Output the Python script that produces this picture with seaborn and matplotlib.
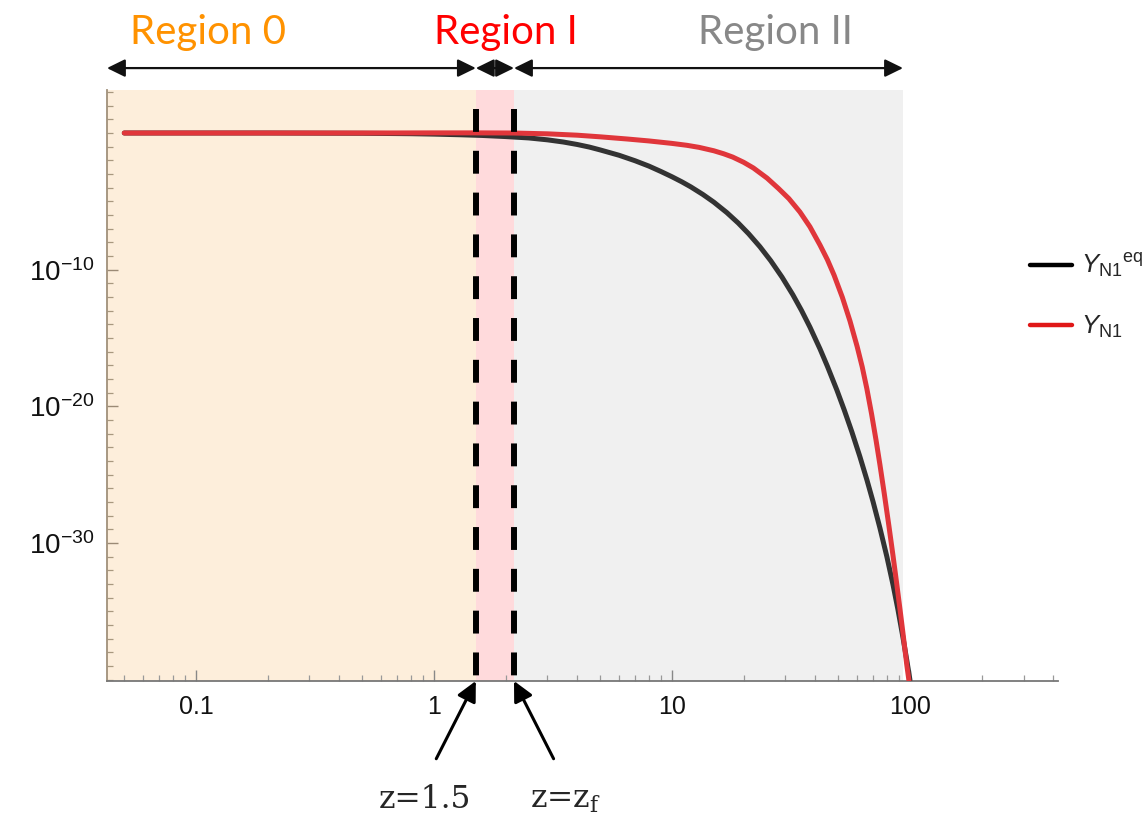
import numpy as np
import pandas as pd
import matplotlib
matplotlib.use("Agg")
import matplotlib.pyplot as plt
import matplotlib.ticker as mticker
from matplotlib.lines import Line2D
import seaborn as sns

# N1 yields versus z = M1/T, stored as log10 of the yield
z_eq = [0.05, 0.2, 0.5, 0.8, 1.0, 1.3, 1.6, 2.0, 2.5, 3.0, 3.5, 4.0, 4.5, 5.0,
        6.0, 7.0, 8.0, 9.0, 10.0, 11.0, 12.0, 13.5, 15.0, 17.0, 19.0, 21.0,
        23.4, 26.0, 29.0, 32.2, 35.0, 38.0, 41.9, 45.0, 49.3, 53.0, 57.0, 61.6,
        66.0, 70.0, 74.8, 80.0, 84.9, 89.0, 93.5, 97.0, 100.0]
log_y_eq = [0.0, 0.0, -0.02, -0.05, -0.08, -0.13, -0.18, -0.26, -0.36, -0.5,
            -0.66, -0.84, -1.03, -1.24, -1.63, -2.03, -2.42, -2.82, -3.2, -3.57,
            -3.94, -4.5, -5.06, -5.82, -6.59, -7.37, -8.31, -9.34, -10.54,
            -11.83, -12.97, -14.2, -15.8, -17.07, -18.8, -20.28, -21.86, -23.67,
            -25.4, -26.98, -28.9, -31.0, -33.05, -34.85, -36.92, -38.57, -40.01]

z_n1 = [0.05, 0.5, 1.0, 1.5, 2.15, 3.0, 4.0, 5.0, 6.5, 8.0, 10.0, 11.56, 13.0,
        15.0, 16.5, 18.0, 20.0, 22.0, 25.1, 28.0, 31.0, 34.5, 38.0, 41.9, 45.0,
        48.0, 52.0, 56.0, 60.0, 63.0, 65.9, 69.0, 72.0, 74.8, 78.0, 81.5, 84.9,
        88.0, 91.0, 93.5, 97.0, 100.0]
log_y_n1 = [0.0, 0.0, 0.01, 0.01, 0.0, -0.06, -0.16, -0.28, -0.44, -0.58,
            -0.76, -0.9, -1.05, -1.3, -1.52, -1.76, -2.14, -2.56, -3.3, -4.05,
            -4.8, -5.78, -6.86, -8.2, -9.27, -10.4, -12.02, -13.76, -15.62,
            -17.1, -18.7, -20.56, -22.45, -24.27, -26.38, -28.69, -30.93,
            -32.98, -34.96, -36.61, -38.92, -40.6]

series_labels = [r"${Y_{\mathrm{N1}}}^{\mathrm{eq}}$", r"$Y_{\mathrm{N1}}$"]
series_colors = ["#333333", "#e0363b"]

# region boundaries in z
z_min, z_max = 0.0423, 418.7
z_start, z_f, z_end = 1.5, 2.17, 93.5
region_names = ["Region 0", "Region I", "Region II"]
region_text_colors = ["#ff9200", "#ff0000", "#888888"]
region_fills = ["#fdeedb", "#ffdadc", "#f0f0f0"]

x_major = [0.1, 1, 10, 100]
x_major_labels = ["0.1", "1", "10", "100"]
y_major_exp = [-10, -20, -30]
y_lim_exp = (-40.09, 3.15)

sns.set_theme(style="white")
plt.rcParams["font.family"] = ["Liberation Sans", "DejaVu Sans"]
plt.rcParams["mathtext.fontset"] = "custom"
plt.rcParams["mathtext.rm"] = "Liberation Sans"
plt.rcParams["mathtext.it"] = "Liberation Sans:italic"
plt.rcParams["mathtext.bf"] = "Liberation Sans:bold"

df = pd.concat([
    pd.DataFrame({"z": z_eq, "Y": 10.0 ** np.array(log_y_eq), "series": series_labels[0]}),
    pd.DataFrame({"z": z_n1, "Y": 10.0 ** np.array(log_y_n1), "series": series_labels[1]}),
], ignore_index=True)

fig = plt.figure(figsize=(11.43, 8.17), dpi=100)
ax = fig.add_axes([0.0936, 0.1665, 0.8320, 0.7234])

# shaded regions
edges = [z_min, z_start, z_f, z_end]
for i in range(3):
    ax.axvspan(edges[i], edges[i + 1], color=region_fills[i], lw=0, zorder=0)

sns.lineplot(data=df, x="z", y="Y", hue="series", hue_order=series_labels,
             palette=series_colors, linewidth=3.6, estimator=None, sort=False,
             ax=ax, zorder=3, legend=False)

ax.set_xscale("log")
ax.set_yscale("log")
ax.set_xlim(z_min, z_max)
ax.set_ylim(10.0 ** y_lim_exp[0], 10.0 ** y_lim_exp[1])
ax.set_xlabel("")
ax.set_ylabel("")

# dashed boundaries of Region I
xt = ax.get_xaxis_transform()
for zb in (z_start, z_f):
    ax.plot([zb, zb], [0.968, 0.0], transform=xt, color="black", lw=4.3,
            dashes=(3.83, 3.17), dash_capstyle="butt", zorder=4, clip_on=False)

# ticks
ax.xaxis.set_major_locator(mticker.FixedLocator(x_major))
ax.xaxis.set_major_formatter(mticker.FixedFormatter(x_major_labels))
ax.xaxis.set_minor_locator(mticker.LogLocator(base=10, subs=np.arange(2, 10), numticks=20))
ax.xaxis.set_minor_formatter(mticker.NullFormatter())
ax.yaxis.set_major_locator(mticker.FixedLocator([10.0 ** e for e in y_major_exp]))
ax.yaxis.set_major_formatter(mticker.FixedFormatter([r"$10^{%d}$" % e for e in y_major_exp]))
ax.yaxis.set_minor_locator(mticker.FixedLocator(
    [10.0 ** e for e in range(-40, 4) if e not in y_major_exp]))
ax.yaxis.set_minor_formatter(mticker.NullFormatter())

ax.tick_params(axis="x", which="major", direction="in", length=8, width=1,
               color="#888888", labelsize=18, pad=10, labelcolor="#111111")
ax.tick_params(axis="x", which="minor", direction="in", length=4.5, width=0.9,
               color="#999999")
ax.tick_params(axis="y", which="major", direction="in", length=8, width=1,
               color="#9b8a75", labelsize=20, pad=9, labelcolor="#111111")
ax.tick_params(axis="y", which="minor", direction="in", length=4, width=0.9,
               color="#a8987f")
ax.xaxis.set_ticks_position("bottom")
ax.yaxis.set_ticks_position("left")

for side in ("top", "right"):
    ax.spines[side].set_visible(False)
ax.spines["left"].set_color("#a0907a")
ax.spines["left"].set_linewidth(1.3)
ax.spines["bottom"].set_color("#777777")
ax.spines["bottom"].set_linewidth(1.3)

# region arrows along the top
arrow_y = 1.037
for i in range(3):
    ax.annotate("", xy=(edges[i + 1], arrow_y), xytext=(edges[i], arrow_y),
                xycoords=xt, textcoords=xt, annotation_clip=False,
                arrowprops=dict(arrowstyle="<|-|>,head_length=0.55,head_width=0.27",
                                mutation_scale=20, color="#111111", lw=1.6,
                                shrinkA=0, shrinkB=0))

region_centers_px = [208, 506, 775]
for name, col, cx in zip(region_names, region_text_colors, region_centers_px):
    fig.text(cx / 1143, 1 - 44 / 817, name, color=col, fontsize=29,
             family=["Lato", "DejaVu Sans"], ha="center", va="baseline")

# arrows pointing to the two boundaries
for zb, dx, label in ((z_start, -1, "z=1.5"), (z_f, 1, r"z=z$_{\mathregular{f}}$")):
    ax.annotate("", xy=(zb, 0.0), xycoords=xt,
                xytext=(dx * 28.5, -56), textcoords="offset points",
                annotation_clip=False,
                arrowprops=dict(arrowstyle="-|>,head_length=0.6,head_width=0.3",
                                mutation_scale=20, color="black", lw=2.2,
                                shrinkA=0, shrinkB=0))
    ax.annotate(label, xy=(zb, 0.0), xycoords=xt,
                xytext=(dx * 37, -91.5), textcoords="offset points",
                ha="center", va="baseline", fontsize=22.5,
                family=["DejaVu Serif"], annotation_clip=False)

# legend
handles = [Line2D([], [], color="black", lw=3.2),
           Line2D([], [], color="#e01818", lw=3.2)]
ax.legend(handles, series_labels, loc="center left",
          bbox_to_anchor=(1030 / 1143, 1 - 296 / 817), bbox_transform=fig.transFigure,
          frameon=False, fontsize=18.5, handlelength=1.65, handletextpad=0.35,
          labelspacing=1.3, borderpad=0, borderaxespad=0)

fig.savefig("out.png", dpi=100, facecolor="white")
